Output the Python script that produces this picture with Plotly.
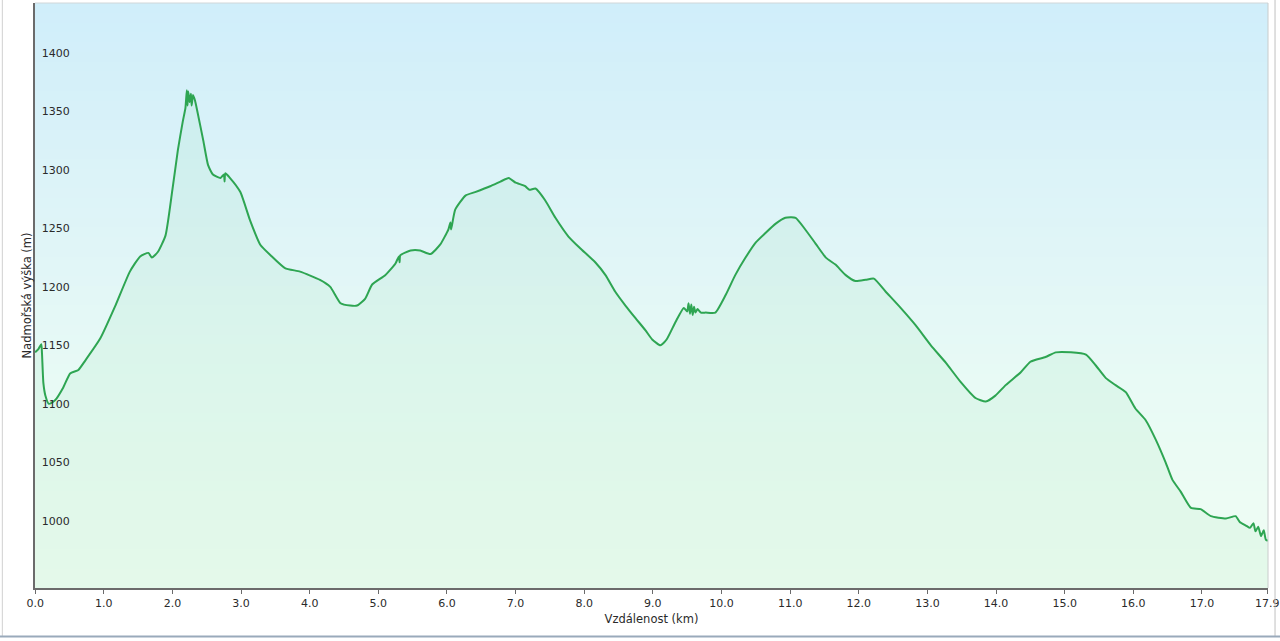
import plotly.graph_objects as go

distance_km = [0.00, 0.05, 0.09, 0.10, 0.12, 0.15, 0.20, 0.29, 0.41, 0.51, 0.63, 0.73, 0.95, 1.17, 1.38,
               1.53, 1.65, 1.70, 1.79, 1.90, 2.00, 2.08, 2.15, 2.19, 2.21, 2.22, 2.23, 2.25, 2.27, 2.28,
               2.30, 2.33, 2.36, 2.45, 2.52, 2.59, 2.70, 2.75, 2.76, 2.77, 2.84, 2.99, 3.13, 3.28, 3.43,
               3.64, 3.86, 4.15, 4.30, 4.45, 4.59, 4.69, 4.81, 4.91, 5.10, 5.25, 5.30, 5.31, 5.32, 5.47,
               5.61, 5.76, 5.90, 6.02, 6.05, 6.06, 6.12, 6.27, 6.41, 6.63, 6.78, 6.90, 7.00, 7.05, 7.14,
               7.20, 7.29, 7.43, 7.58, 7.77, 7.94, 8.16, 8.31, 8.45, 8.60, 8.75, 8.89, 8.99, 9.11, 9.20,
               9.33, 9.45, 9.50, 9.52, 9.54, 9.56, 9.58, 9.60, 9.62, 9.65, 9.70, 9.77, 9.91, 10.06, 10.20,
               10.35, 10.50, 10.64, 10.79, 10.93, 11.08, 11.22, 11.37, 11.52, 11.66, 11.81, 11.95, 12.10,
               12.22, 12.39, 12.61, 12.83, 13.05, 13.27, 13.48, 13.70, 13.85, 13.99, 14.14, 14.36, 14.50,
               14.72, 14.87, 15.09, 15.31, 15.45, 15.60, 15.74, 15.89, 16.03, 16.18, 16.33, 16.47, 16.57,
               16.69, 16.84, 16.98, 17.13, 17.35, 17.49, 17.55, 17.64, 17.70, 17.75, 17.78, 17.82, 17.86,
               17.90, 17.93, 17.96]
elevation_m = [1151, 1154, 1158, 1150, 1125, 1114, 1107, 1110, 1121, 1133, 1136, 1144, 1163, 1191, 1220,
               1233, 1236, 1232, 1237, 1251, 1290, 1324, 1348, 1360, 1375, 1362, 1374, 1365, 1372, 1362,
               1371, 1366, 1358, 1332, 1311, 1303, 1300, 1303, 1297, 1304, 1300, 1288, 1264, 1243, 1234,
               1223, 1220, 1213, 1207, 1193, 1191, 1191, 1197, 1209, 1217, 1227, 1233, 1228, 1234, 1238,
               1238, 1235, 1243, 1256, 1262, 1256, 1273, 1285, 1288, 1293, 1297, 1300, 1296, 1295, 1293,
               1290, 1291, 1281, 1266, 1250, 1240, 1228, 1217, 1203, 1191, 1180, 1170, 1162, 1157, 1162,
               1177, 1189, 1186, 1193, 1184, 1192, 1183, 1190, 1185, 1188, 1185, 1185, 1185, 1200, 1217,
               1232, 1245, 1253, 1261, 1266, 1266, 1256, 1244, 1232, 1226, 1217, 1212, 1213,
               1214, 1203, 1189, 1174, 1157, 1142, 1126, 1112, 1109, 1114, 1123, 1134, 1143,
               1147, 1151, 1151, 1149, 1140, 1129, 1123, 1117, 1103, 1093, 1076, 1057, 1042,
               1032, 1018, 1017, 1011, 1009, 1011, 1006, 1003, 1001, 1005, 998, 1002, 994,
               999, 991, 990]

x_tick_vals = [0, 1, 2, 3, 4, 5, 6, 7, 8, 9, 10, 11, 12, 13, 14, 15, 16, 17, 17.95]
x_tick_text = ["0.0", "1.0", "2.0", "3.0", "4.0", "5.0", "6.0", "7.0", "8.0", "9.0", "10.0",
               "11.0", "12.0", "13.0", "14.0", "15.0", "16.0", "17.0", "17.9"]
y_tick_vals = [1000, 1050, 1100, 1150, 1200, 1250, 1300, 1350, 1400]

X_MIN, X_MAX = -0.002, 17.962
Y_MIN, Y_MAX = 949.6, 1449.6

# background gradient (styling only)
n_bands = 60
bg_edges = [Y_MIN + (Y_MAX - Y_MIN) * i / n_bands for i in range(n_bands + 1)]
bg_z = [[i / (n_bands - 1)] for i in range(n_bands)]

fig = go.Figure()
fig.add_trace(go.Heatmap(
    x=[X_MIN, X_MAX], y=bg_edges, z=bg_z,
    colorscale=[[0, "#f0fdf3"], [0.35, "#e8faf5"], [0.7, "#dcf3f8"], [1, "#d0eefa"]],
    showscale=False, hoverinfo="skip", zmin=0, zmax=1,
))
fig.add_trace(go.Scatter(
    x=distance_km, y=elevation_m, mode="lines",
    line=dict(color="#2ea552", width=2, shape="spline", smoothing=0.5),
    fill="tozeroy", fillcolor="rgba(90,205,130,0.08)",
    showlegend=False,
))

font = "DejaVu Sans, Verdana, sans-serif"
fig.update_layout(
    width=1280, height=641,
    margin=dict(l=35, r=12, t=3, b=53),
    paper_bgcolor="white", plot_bgcolor="white",
    font=dict(family=font, size=11, color="#2a2a2a"),
    showlegend=False,
)
fig.update_xaxes(
    range=[X_MIN, X_MAX], tickvals=x_tick_vals, ticktext=x_tick_text, automargin=False,
    showgrid=False, zeroline=False,
    showline=True, linecolor="#6b6b6b", linewidth=2,
    ticks="outside", ticklen=4, tickcolor="#6b6b6b",
    tickfont=dict(family=font, size=11, color="#2a2a2a"),
    title=dict(text="Vzdálenost (km)", font=dict(family=font, size=11.5, color="#2a2a2a"), standoff=6),
)
fig.update_yaxes(
    range=[Y_MIN, Y_MAX], tickvals=y_tick_vals, automargin=False,
    showgrid=True, gridcolor="#bfcfd0", gridwidth=1, zeroline=False,
    showline=True, linecolor="#6b6b6b", linewidth=2,
    ticks="", ticklabelposition="outside", ticklabelstandoff=-39, ticklabelshift=-8,
    tickfont=dict(family=font, size=11, color="#2a2a2a"),
    title=dict(text="Nadmořská výška (m)", font=dict(family=font, size=11.5, color="#2a2a2a"), standoff=8),
)

# top/right light border of plot area and outer frame
fig.add_shape(type="line", xref="paper", yref="paper", x0=0, x1=1, y0=1, y1=1,
              line=dict(color="#d0d6d8", width=1))
fig.add_shape(type="line", xref="paper", yref="paper", x0=1, x1=1, y0=0, y1=1,
              line=dict(color="#c8cccc", width=1))
fig.add_shape(type="line", xref="paper", yref="paper", x0=-0.0265, x1=-0.0265, y0=-0.082, y1=1.01,
              line=dict(color="#d0d0d0", width=1))
fig.add_shape(type="line", xref="paper", yref="paper", x0=1.0057, x1=1.0057, y0=-0.082, y1=1.01,
              line=dict(color="#c0c0c0", width=1))
fig.add_shape(type="line", xref="paper", yref="paper", x0=-0.03, x1=1.01, y0=-0.083, y1=-0.083,
              line=dict(color="#9aaabb", width=2))

fig.write_html("out.html", config={"displayModeBar": False},
               post_script="document.body.style.margin='0';")
